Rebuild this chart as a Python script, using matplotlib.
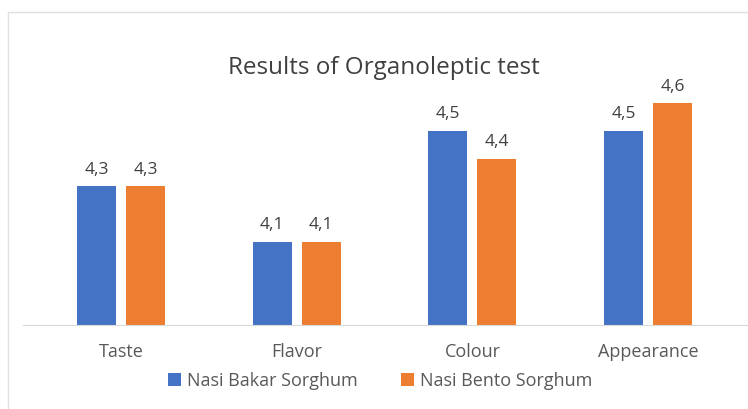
import matplotlib
matplotlib.use("Agg")
import matplotlib.pyplot as plt
from matplotlib.patches import Rectangle
import numpy as np

# datos
categorias = ["Taste", "Flavor", "Colour", "Appearance"]
nasi_bakar = [4.3, 4.1, 4.5, 4.5]
nasi_bento = [4.3, 4.1, 4.4, 4.6]
series = ["Nasi Bakar Sorghum", "Nasi Bento Sorghum"]

azul = "#4472C4"
naranja = "#ED7D31"
gris_txt = "#595959"

plt.rcParams["font.family"] = ["Open Sans", "DejaVu Sans"]

fig = plt.figure(figsize=(7.48, 4.09), dpi=100)
ax = fig.add_axes([23 / 748, (409 - 325) / 409, 1 - 23 / 748, (325 - 60) / 409])

x = np.arange(len(categorias))
ancho = 0.222
sep = 0.057
b1 = ax.bar(x - (ancho + sep) / 2, nasi_bakar, ancho, color=azul, label=series[0])
b2 = ax.bar(x + (ancho + sep) / 2, nasi_bento, ancho, color=naranja, label=series[1])

for barras in (b1, b2):
    for b in barras:
        v = b.get_height()
        ax.annotate(f"{v:.1f}".replace(".", ","), (b.get_x() + b.get_width() / 2, v),
                    xytext=(0, 6), textcoords="offset points", ha="center", va="bottom",
                    fontsize=12.5, color="#404040")

ax.set_ylim(3.8, 4.755)
ax.set_xlim(-0.56, 3.57)
ax.set_xticks(x)
ax.set_xticklabels(categorias, fontsize=13, color=gris_txt)
ax.tick_params(axis="x", length=0, pad=13)
ax.set_yticks([])
for lado in ["top", "right", "left"]:
    ax.spines[lado].set_visible(False)
ax.spines["bottom"].set_color("#D9D9D9")
ax.patch.set_alpha(0)

fig.text(384 / 748, 1 - 68 / 409, "Results of Organoleptic test", ha="center", va="center",
         fontsize=17.5, color="#404040")

leg = fig.legend(handles=[b1, b2], labels=series, loc="center", bbox_to_anchor=(380 / 748, 1 - 381 / 409),
                 ncol=2, frameon=False, fontsize=13, handlelength=0.75, handleheight=0.75,
                 handletextpad=0.3, columnspacing=2.4)
for t in leg.get_texts():
    t.set_color(gris_txt)

# marco gris del area del grafico
fig.patches.append(Rectangle((8 / 748, -0.1), 1.2, 1 - 12 / 409 + 0.1, transform=fig.transFigure,
                             fill=False, edgecolor="#E0E0E0", linewidth=1))

fig.savefig("out.png", dpi=100)
